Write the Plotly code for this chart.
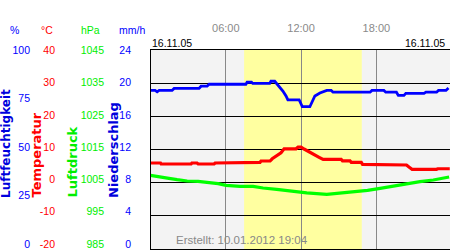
import plotly.graph_objects as go

# ---------------- data ----------------
# time in hours of 16.11.05
hum_t = [0.0, 0.37, 0.53, 0.69, 1.72, 1.88, 3.87, 4.03, 4.51, 4.67, 7.6, 7.7, 8.05, 8.15,
         9.5, 9.6, 9.9, 10.05, 10.3, 10.55, 10.8, 10.95, 11.85, 11.95, 12.1, 12.7, 12.9,
         13.1, 13.5, 14.05, 14.4, 14.55, 17.5, 17.65, 18.6, 18.75, 19.6, 19.75, 20.2, 20.35,
         21.8, 21.95, 22.8, 22.95, 23.55, 23.75]
humidity = [79.7, 79.7, 79.0, 79.7, 79.7, 80.7, 80.7, 81.8, 81.8, 82.8, 82.8, 83.8, 83.8, 83.2,
            83.2, 84.3, 84.3, 83.2, 81.4, 79.4, 76.9, 74.9, 74.9, 73.4, 71.5, 71.5, 73.9,
            76.9, 78.4, 79.7, 79.7, 78.8, 78.8, 79.7, 79.7, 78.8, 78.8, 77.2, 77.2, 78.2,
            78.2, 78.8, 78.8, 79.7, 79.7, 80.9]

temp_t = [0.0, 0.8, 0.85, 3.24, 3.3, 3.71, 3.8, 5.07, 5.15, 6.1, 6.26, 8.73, 8.81, 9.53,
          9.7, 10.0, 10.4, 10.65, 11.6, 11.76, 12.0, 12.24, 12.64, 13.04, 13.44, 13.76,
          15.2, 15.3, 15.9, 16.0, 16.8, 16.9, 17.9, 18.0, 20.4, 20.6, 20.85, 22.8, 22.9, 23.85]
temperature = [5.93, 5.93, 5.63, 5.63, 5.93, 5.93, 5.63, 5.63, 5.93, 5.93, 6.14, 6.14, 6.53, 6.53,
               7.2, 8.0, 9.0, 10.2, 10.2, 10.7, 10.7, 10.15, 9.24, 8.34, 7.64, 7.0,
               7.0, 6.6, 6.6, 6.14, 6.14, 5.53, 5.53, 5.33, 5.33, 4.7, 4.03, 4.03, 4.2, 4.2]

pres_t = [0.0, 0.4, 0.87, 1.47, 2.12, 2.92, 3.79, 4.67, 5.39, 6.02, 7.14, 8.18, 8.97, 10.06,
          11.12, 12.45, 14.05, 15.37, 16.37, 17.3, 18.3, 19.35, 20.42, 21.48, 22.54, 23.47, 23.8]
pressure = [1007.2, 1007.0, 1006.6, 1006.3, 1005.9, 1005.5, 1005.4, 1005.1, 1004.7, 1004.2,
            1003.9, 1003.9, 1003.4, 1003.0, 1002.5, 1001.9, 1001.5, 1001.9, 1002.3, 1002.7,
            1003.3, 1004.0, 1004.7, 1005.3, 1005.8, 1006.5, 1006.7]

precip_t = []
precipitation = []

daylight_start = 7.46
daylight_end = 16.84

hour_ticks = [6, 12, 18]
hour_labels = ["06:00", "12:00", "18:00"]
hum_ticks = [0, 25, 50, 75, 100]
temp_ticks = [-20, -10, 0, 10, 20, 30, 40]
pres_ticks = [985, 995, 1005, 1015, 1025, 1035, 1045]
prec_ticks = [0, 4, 8, 12, 16, 20, 24]
date_label = "16.11.05"
created_label = "Erstellt: 10.01.2012 19:04"

# ---------------- figure ----------------
W, H = 450, 250
FONT = "Liberation Sans, Arial, sans-serif"
BLUE = "#0000ff"
RED = "#ff0000"
GREEN = "#00ee00"
PX_PER_HOUR = 12.55
X0_PX = 150.4

def px(xp):
    return xp / W

def py(yp):
    return (249 - yp) / 199

fig = go.Figure()
fig.add_trace(go.Scatter(x=pres_t, y=pressure, yaxis="y3", mode="lines",
                         line=dict(color="#00ff00", width=3.2), showlegend=False, hoverinfo="skip"))
fig.add_trace(go.Scatter(x=temp_t, y=temperature, yaxis="y2", mode="lines",
                         line=dict(color=RED, width=3.2), showlegend=False, hoverinfo="skip"))
fig.add_trace(go.Scatter(x=hum_t, y=humidity, yaxis="y", mode="lines",
                         line=dict(color=BLUE, width=2.8), showlegend=False, hoverinfo="skip"))
fig.add_trace(go.Scatter(x=precip_t, y=precipitation, yaxis="y7", mode="lines",
                         line=dict(color=BLUE, width=2), showlegend=False, hoverinfo="skip"))
for ax in ["y4", "y5", "y6"]:
    fig.add_trace(go.Scatter(x=[], y=[], yaxis=ax, showlegend=False, hoverinfo="skip"))

tickfont = dict(family=FONT, size=10.5)
label_axis = dict(overlaying="y", anchor="free", side="left", showgrid=False, zeroline=False,
                  showline=False, ticks="", fixedrange=True, tickmode="array")

fig.update_layout(
    width=W, height=H,
    margin=dict(l=0, r=0, t=50, b=1, pad=0),
    paper_bgcolor="white", plot_bgcolor="#f3f3f3",
    font=dict(family=FONT),
    xaxis=dict(domain=[150.5 / W, 1], range=[0, 23.87], side="top",
               tickmode="array", tickvals=hour_ticks, ticktext=hour_labels,
               tickfont=dict(family=FONT, size=11, color="#8a8a8a"),
               ticks="outside", ticklen=13, tickcolor="rgba(0,0,0,0)",
               showgrid=True, gridcolor="#888888", gridwidth=1,
               showline=True, linecolor="black", linewidth=1, mirror=True, zeroline=False),
    yaxis=dict(range=[0, 100], tickmode="linear", tick0=0, dtick=100 / 6,
               showticklabels=False, ticks="", showgrid=True, gridcolor="black", gridwidth=1,
               showline=True, linecolor="black", linewidth=1, mirror=True, zeroline=False),
    yaxis2=dict(range=[-20, 40], overlaying="y", visible=False),
    yaxis3=dict(range=[985, 1045], overlaying="y", visible=False),
    yaxis4=dict(label_axis, position=px(30), range=[-2.58, 100.2], tickvals=hum_ticks,
                ticktext=[str(v) for v in hum_ticks], tickfont=dict(tickfont, color=BLUE)),
    yaxis5=dict(label_axis, position=px(55), range=[-21.55, 40.12], tickvals=temp_ticks,
                ticktext=[str(v) for v in temp_ticks], tickfont=dict(tickfont, color=RED)),
    yaxis6=dict(label_axis, position=px(104), range=[983.45, 1045.12], tickvals=pres_ticks,
                ticktext=[str(v) for v in pres_ticks], tickfont=dict(tickfont, color=GREEN)),
    yaxis7=dict(label_axis, position=px(131), range=[-0.62, 24.05], tickvals=prec_ticks,
                ticktext=[str(v) for v in prec_ticks], tickfont=dict(tickfont, color=BLUE)),
    shapes=[
        dict(type="rect", xref="x", yref="paper", x0=daylight_start, x1=daylight_end,
             y0=0, y1=1, fillcolor="#ffffa0", line=dict(width=0), layer="below"),
        # backdrop of the "Erstellt" note over the grey part (hides the grid line there)
        dict(type="rect", xref="x", yref="paper", x0=(174 - X0_PX) / PX_PER_HOUR,
             x1=daylight_start, y0=0.002, y1=py(232), fillcolor="#f3f3f3",
             line=dict(width=0), layer="between"),
    ],
)

ann = []
# unit headers
for txt, xc, col in [("%", 14, BLUE), ("°C", 47, RED), ("hPa", 90, GREEN), ("mm/h", 132, BLUE)]:
    ann.append(dict(text=txt, x=px(xc), y=py(30), xref="paper", yref="paper",
                    xanchor="center", yanchor="middle", showarrow=False,
                    font=dict(family=FONT, size=10.5, color=col)))
# rotated axis titles
for txt, xc, col, sz in [("Luftfeuchtigkeit", 5.5, "#0000dd", 12), ("Temperatur", 36, RED, 13),
                         ("Luftdruck", 72, "#00ee00", 13), ("Niederschlag", 113, "#0000dd", 13)]:
    ann.append(dict(text="<b>" + txt + "</b>", x=px(xc), y=py(200), xref="paper", yref="paper",
                    xanchor="center", yanchor="bottom", textangle=-90, showarrow=False,
                    font=dict(family="DejaVu Sans, sans-serif", size=sz, color=col)))
# date labels
ann.append(dict(text=date_label, x=px(150), y=py(43), xref="paper", yref="paper",
                xanchor="left", yanchor="middle", showarrow=False,
                font=dict(family=FONT, size=10.5, color="black")))
ann.append(dict(text=date_label, x=px(447), y=py(43), xref="paper", yref="paper",
                xanchor="right", yanchor="middle", showarrow=False,
                font=dict(family=FONT, size=10.5, color="black")))
# created
ann.append(dict(text=created_label, x=px(174), y=py(240), xref="paper", yref="paper",
                xanchor="left", yanchor="middle", showarrow=False,
                font=dict(family=FONT, size=11.5, color="#888888")))
fig.update_layout(annotations=ann)

fig.write_html("out.html")
